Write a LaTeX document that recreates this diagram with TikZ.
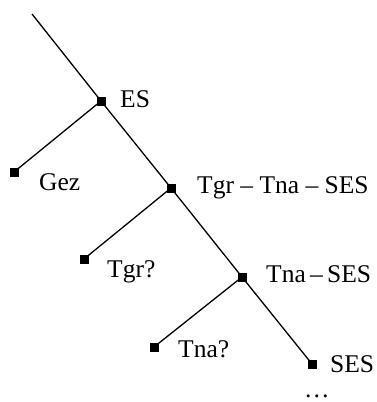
\documentclass[tikz,border=0pt]{standalone}
\usepackage{fontspec}
\setmainfont{Liberation Serif}
\begin{document}
\begin{tikzpicture}[x=1pt,y=-1pt,
  branch/.style={line width=1.3pt},
  leaf/.style={fill=black,draw=none,minimum size=9pt,inner sep=0pt,rectangle},
  lbl/.style={anchor=base west,inner sep=0pt,font=\fontsize{25.5}{30}\selectfont}]
\useasboundingbox (0,0) rectangle (377,402);
% tree points
\coordinate (top) at (32,14);
\node[leaf] (es)  at (101,101) {};
\node[leaf] (gez) at (14,172) {};
\node[leaf] (ttS) at (171,188) {};
\node[leaf] (tgr) at (84,259) {};
\node[leaf] (tS)  at (242,277) {};
\node[leaf] (tna) at (154,347) {};
\node[leaf] (ses) at (312,364) {};
% main stem and side branches
\draw[branch] (top) -- (es.center) -- (ttS.center) -- (tS.center) -- (ses.center);
\draw[branch] (es.center) -- (gez.center);
\draw[branch] (ttS.center) -- (tgr.center);
\draw[branch] (tS.center) -- (tna.center);
% labels
\node[lbl] (les)  at (120,107) {ES};
\node[lbl] (lgez) at (39,190) {Gez};
\node[lbl] (ltts) at (197,193) {Tgr – Tna – SES};
\node[lbl] (ltgr) at (107,277) {Tgr?};
\node[lbl] (lts)  at (266,282) {Tna\,–\,SES};
\node[lbl] (ltna) at (178,357) {Tna?};
\node[lbl] (lses) at (330,372) {SES};
\node[lbl] (ldots) at (304,397) {…};
\end{tikzpicture}
\end{document}
